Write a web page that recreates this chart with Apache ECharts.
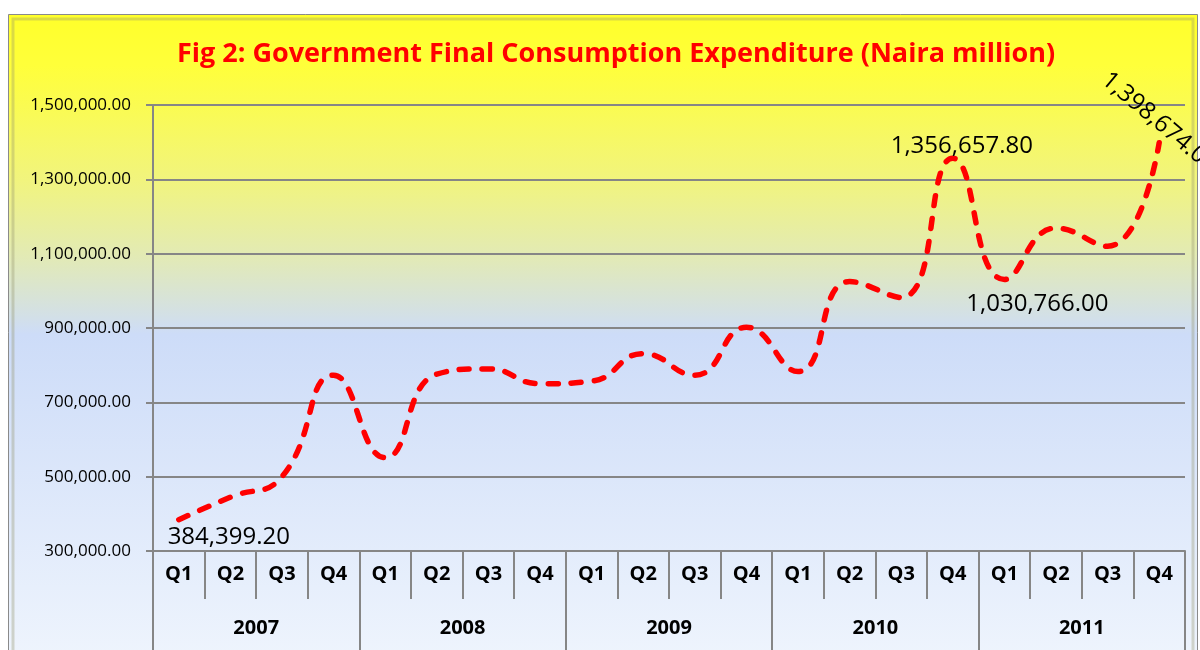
<!DOCTYPE html>
<html>
<head>
<meta charset="utf-8">
<script src="https://cdn.jsdelivr.net/npm/echarts@6/dist/echarts.min.js"></script>
<style>
  html, body { margin: 0; padding: 0; background: #ffffff; }
  #chart { width: 1200px; height: 650px; }
</style>
</head>
<body>
<div id="chart"></div>
<script>
const quarters = ['Q1', 'Q2', 'Q3', 'Q4', 'Q1', 'Q2', 'Q3', 'Q4', 'Q1', 'Q2',
  'Q3', 'Q4', 'Q1', 'Q2', 'Q3', 'Q4', 'Q1', 'Q2', 'Q3', 'Q4'];
const years = ['2007', '2008', '2009', '2010', '2011'];
const expenditure = [384399.2, 445000, 500000, 773000, 551000, 776000, 790000, 750000,
  757000, 831000, 773000, 902000, 783000, 1025000, 982000, 1356657.8,
  1030766, 1169000, 1120000, 1398674];
// which points carry a data label in the original
const labelled = [0, 15, 16, 19];

const chart = echarts.init(document.getElementById('chart'));

function money(v) {
  return v.toLocaleString('en-US', { minimumFractionDigits: 2, maximumFractionDigits: 2 });
}

const labelStyles = {
  0: { position: 'bottom', offset: [50, 1] },
  15: { position: 'top', offset: [9, 4] },
  16: { position: 'bottom', offset: [33, 8] },
  19: { position: 'top', rotate: -40, offset: [-10, 0] }
};

const seriesData = expenditure.map(function (v, i) {
  if (labelled.indexOf(i) < 0) return v;
  return { value: v, label: Object.assign({ show: true }, labelStyles[i]) };
});

const tickStyle = { color: '#868686', width: 2 };

const option = {
  animation: false,
  graphic: [{
    type: 'rect',
    z: -10,
    shape: { x: 8.5, y: 14.5, width: 1189, height: 640 },
    style: {
      fill: new echarts.graphic.LinearGradient(0, 0, 0, 1, [
        { offset: 0, color: '#ffff2a' },
        { offset: 0.08, color: '#ffff3a' },
        { offset: 0.26, color: '#f1f47e' },
        { offset: 0.38, color: '#e2eab6' },
        { offset: 0.47, color: '#d3e0e6' },
        { offset: 0.5, color: '#cddcf8' },
        { offset: 1, color: '#eef4fd' }
      ]),
      stroke: '#8a8a8a',
      lineWidth: 1
    }
  }, {
    type: 'rect',
    z: -9,
    shape: { x: 13, y: 19, width: 1180, height: 640 },
    style: { fill: 'none', stroke: 'rgba(150,150,110,0.35)', lineWidth: 3 }
  }],
  title: {
    text: 'Fig 2: Government Final Consumption Expenditure (Naira million)',
    left: 611,
    top: 36,
    textAlign: 'center',
    textStyle: {
      fontFamily: 'Open Sans',
      fontWeight: 'bold',
      fontSize: 27,
      color: '#ff0000'
    }
  },
  grid: { left: 153, right: 15, top: 105, bottom: 99 },
  xAxis: [{
    type: 'category',
    data: quarters,
    position: 'bottom',
    boundaryGap: true,
    axisLine: { show: true, lineStyle: tickStyle },
    axisTick: { show: true, interval: 0, length: 48, lineStyle: tickStyle },
    axisLabel: {
      interval: 0,
      margin: 13,
      color: '#000',
      fontFamily: 'Open Sans',
      fontWeight: 'bold',
      fontSize: 20
    }
  }, {
    type: 'category',
    data: years,
    position: 'bottom',
    offset: 0,
    boundaryGap: true,
    axisLine: { show: false },
    axisTick: { show: true, interval: 0, length: 100, lineStyle: tickStyle },
    axisLabel: {
      interval: 0,
      margin: 67,
      color: '#000',
      fontFamily: 'Open Sans',
      fontWeight: 'bold',
      fontSize: 20
    },
    splitLine: { show: false }
  }],
  yAxis: {
    type: 'value',
    min: 300000,
    max: 1500000,
    interval: 200000,
    axisLine: { show: true, lineStyle: tickStyle },
    axisTick: { show: true, length: 7, lineStyle: tickStyle },
    splitLine: { lineStyle: tickStyle },
    axisLabel: {
      margin: 22,
      color: '#000',
      fontFamily: 'Open Sans',
      fontSize: 17,
      formatter: money
    }
  },
  series: [{
    name: 'Government Final Consumption Expenditure',
    type: 'line',
    xAxisIndex: 0,
    data: seriesData,
    smooth: 0.5,
    symbol: 'circle',
    symbolSize: 1,
    showSymbol: true,
    itemStyle: { color: 'rgba(255,0,0,0)' },
    lineStyle: { color: '#ff0000', width: 5.5, type: [10, 13], cap: 'round' },
    label: {
      show: false,
      color: '#000',
      fontFamily: 'Open Sans',
      fontSize: 24,
      distance: 4,
      formatter: function (p) { return money(p.value); }
    }
  }]
};

chart.setOption(option);
</script>
</body>
</html>
